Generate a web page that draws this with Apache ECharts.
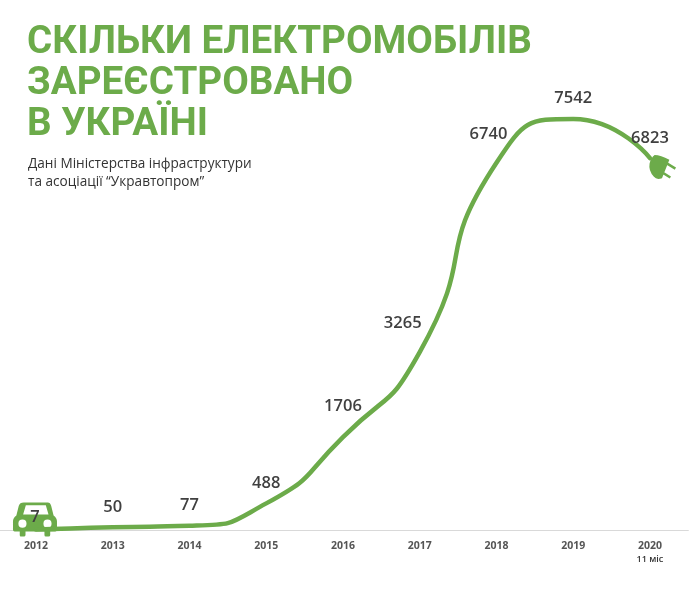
<!DOCTYPE html>
<html><head><meta charset="utf-8">
<script src="https://cdn.jsdelivr.net/npm/echarts@6/dist/echarts.min.js"></script>
<style>html,body{margin:0;padding:0;background:#fff;overflow:hidden}#c{position:absolute;left:-10px;top:0;width:700px;height:595px}</style>
</head><body><div id="c"></div>
<script>
const years = ['2012','2013','2014','2015','2016','2017','2018','2019','2020'];
const cars = [7,50,77,488,1706,3265,6740,7542,6823];
const titleLines = ['СКІЛЬКИ ЕЛЕКТРОМОБІЛІВ','ЗАРЕЄСТРОВАНО','В УКРАЇНІ'];
const subtitleLines = ['Дані Міністерства інфраструктури','та асоціації “Укравтопром”'];
const lastYearNote = '11 міс';
const labelOffsets = [[-1,-3],[0,-11],[0,-12],[0,-11],[0,-22],[-17,-20],[-8,-19],[0,-12],[0,-11]];
const green = '#6cab4a', ink = '#404040';
const carPath = 'path://M72 100L143 100Q150 100 153 110L160 138Q170 145 170 155L170 180Q170 185 165 185L150 185L150 195Q150 200 145 200L137 200Q133 200 133 195L133 185L77 185L77 195Q77 200 72 200L63 200Q60 200 60 195L60 185L45 185Q40 185 40 180L40 155Q40 145 50 138L57 110Q60 100 72 100ZM78 108L70 135L145 135L137 108ZM56 162A12 12 0 0 0 80 162A12 12 0 0 0 56 162ZM130 162A12 12 0 0 0 154 162A12 12 0 0 0 130 162Z';
const plugPath = 'path://M44 30Q62 30 88 44L66 98Q50 104 42 94Q25 76 29 55Q33 38 44 30ZM79.9 49.8L107.9 66.8L104.1 73.2L76.1 56.2ZM64.9 75.8L92.9 92.8L89.1 99.2L61.1 82.2Z';
const chart = echarts.init(document.getElementById('c'), null, {renderer:'canvas'});
chart.setOption({
  animation:false,
  backgroundColor:'#fff',
  title:[
    {text:titleLines.join('\n'),left:37,top:23,padding:0,textStyle:{fontFamily:'Roboto',fontWeight:700,fontSize:38.6,lineHeight:41,color:green}},
    {text:subtitleLines.join('\n'),left:38,top:155,padding:0,textStyle:{fontFamily:'Open Sans',fontWeight:400,fontSize:13.6,lineHeight:18,color:'#333'}}
  ],
  grid:{left:7.6,width:690.75,top:94,height:436},
  xAxis:{type:'category',data:years,boundaryGap:true,
    axisLine:{show:true,lineStyle:{color:'#d9d9d9',width:1}},axisTick:{show:false},
    axisLabel:{margin:9,interval:0,fontFamily:'Open Sans',fontWeight:700,fontSize:10.5,color:'#555',lineHeight:14,
      formatter:(v)=> v===years[years.length-1] ? v+'\n{n|'+lastYearNote+'}' : v,
      rich:{n:{fontFamily:'Open Sans',fontSize:9,fontWeight:600,color:'#333',lineHeight:13}}}},
  yAxis:{type:'value',min:0,max:8000,show:false},
  series:[{type:'line',data:cars.map((v,i)=>({value:v,label:{offset:labelOffsets[i]}})),
    smooth:0.6,symbol:'circle',symbolSize:1,showSymbol:true,
    itemStyle:{color:green},
    lineStyle:{color:green,width:4.5,cap:'round'},
    label:{show:true,position:'top',distance:0,fontFamily:'Open Sans',fontWeight:600,fontSize:16.5,color:ink},
    z:3,
    markPoint:{silent:true,z:2,label:{show:false},data:[
      {coord:[years[0],cars[0]],symbol:carPath,symbolSize:[44,34],symbolOffset:[-1,-10],itemStyle:{color:green}},
      {coord:[years[8],cars[8]],symbol:plugPath,symbolSize:[26.7,24],symbolOffset:[12.7,8.8],itemStyle:{color:green}}
    ]}
  }]
});
</script></body></html>
